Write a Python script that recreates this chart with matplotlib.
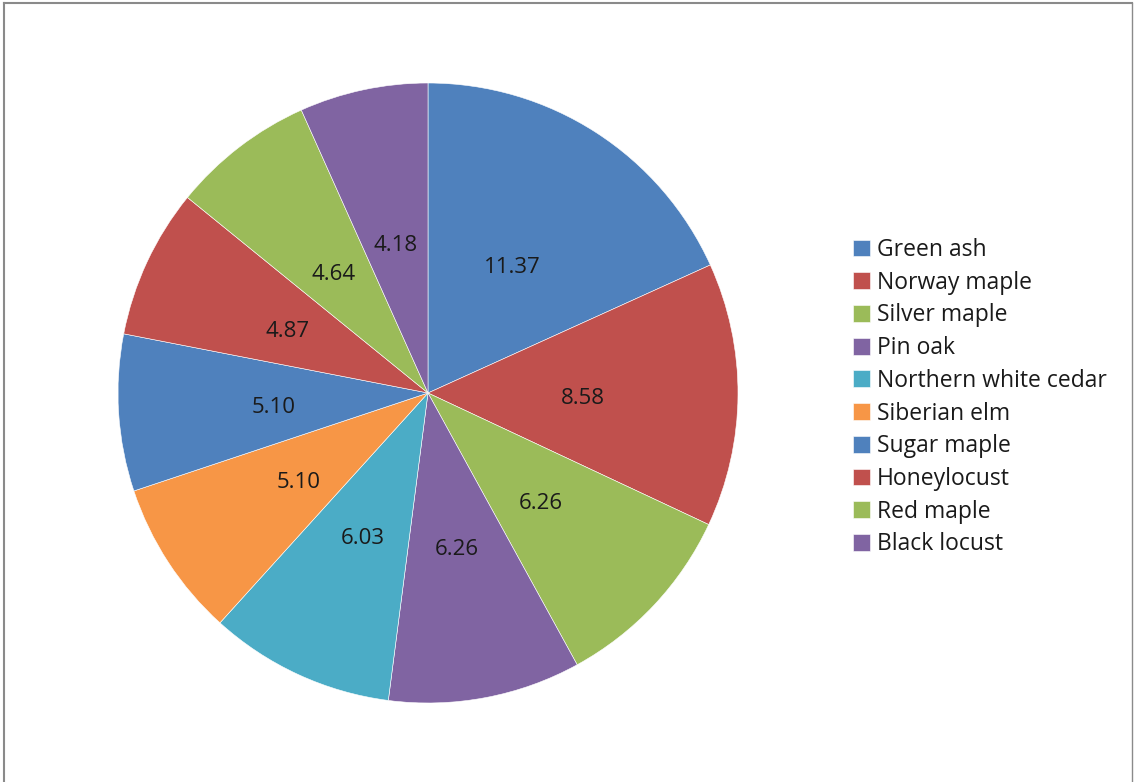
# pie of tree species values
import numpy as np
import matplotlib.pyplot as plt
from matplotlib.lines import Line2D
#
species = ['Green ash', 'Norway maple', 'Silver maple', 'Pin oak',
           'Northern white cedar', 'Siberian elm', 'Sugar maple',
           'Honeylocust', 'Red maple', 'Black locust']
values = [11.37, 8.58, 6.26, 6.26, 6.03, 5.10, 5.10, 4.87, 4.64, 4.18]
colors = ['#4F81BD', '#C0504D', '#9BBB59', '#8064A2', '#4BACC6',
          '#F79646', '#4F81BD', '#C0504D', '#9BBB59', '#8064A2']
#
plt.rcParams['font.family'] = ['Open Sans', 'DejaVu Sans']
W, H = 1134, 782
fig = plt.figure(figsize=(W/100, H/100), dpi=100)
#
cx, cy, r = 428, 389, 310
ax = fig.add_axes([(cx-r)/W, (cy-r)/H, 2*r/W, 2*r/H])
total = sum(values)
wedges, texts, autotexts = ax.pie(values, colors=colors, startangle=90, counterclock=False,
                                  radius=1.0, autopct=lambda p: '%.2f' % (p*total/100),
                                  pctdistance=0.5,
                                  wedgeprops=dict(edgecolor='white', linewidth=0.4))
for t in autotexts :
    t.set_fontsize(16)
    t.set_color('#1a1a1a')
    x, y = t.get_position()
    t.set_position((x, y - 4.5/r))   # excel puts labels a little lower
ax.set_xlim(-1, 1)
ax.set_ylim(-1, 1)
ax.set_axis_off()
#
leg = fig.legend(wedges, species, loc='upper left', bbox_to_anchor=(853/W, 1-238/H),
                 frameon=False, fontsize=16.5, handlelength=0.75, handleheight=0.75,
                 handletextpad=0.28, labelspacing=0.38, borderpad=0, borderaxespad=0)
for t in leg.get_texts() :
    t.set_color('#1a1a1a')
#
# thin gray frame (left, top, right)
lc = '#8a8a8a'
fig.add_artist(Line2D([3.5/W, 3.5/W], [0, 1-2.5/H], color=lc, linewidth=1.5))
fig.add_artist(Line2D([3.5/W, 1131.5/W], [1-2.5/H, 1-2.5/H], color=lc, linewidth=1.5))
fig.add_artist(Line2D([1131.5/W, 1131.5/W], [0, 1-2.5/H], color=lc, linewidth=1.0))
#
plt.savefig('out.png', format='png', dpi=100)
